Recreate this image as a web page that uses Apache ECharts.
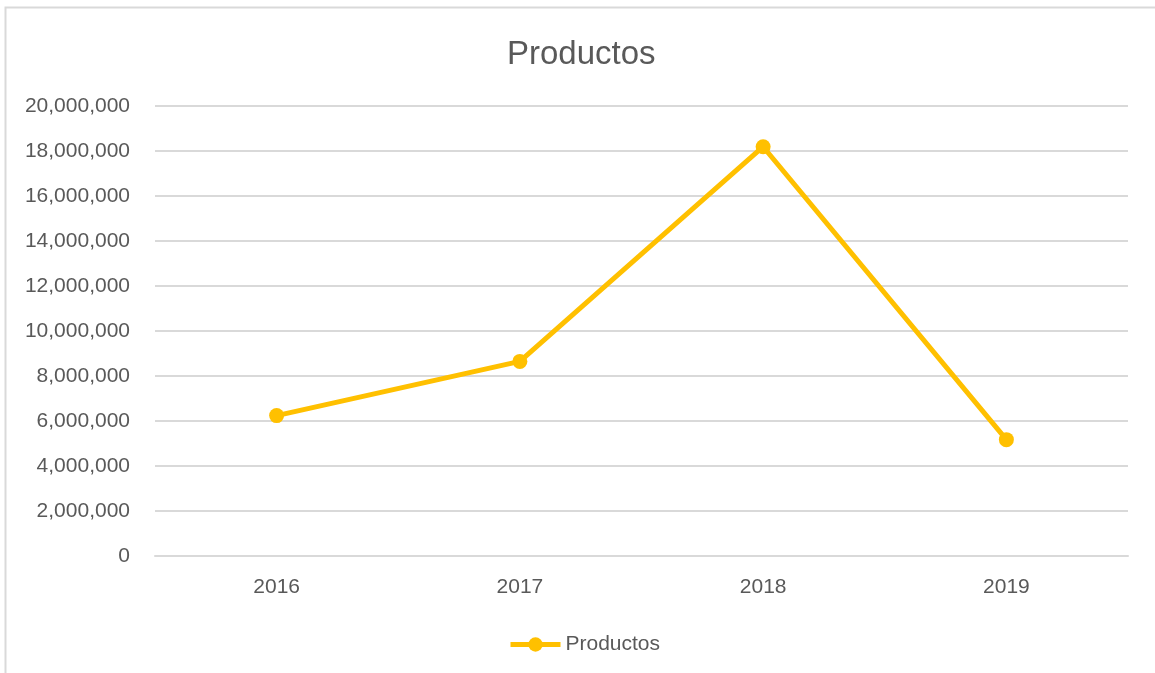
<!DOCTYPE html>
<html>
<head>
<meta charset="utf-8">
<script src="https://cdn.jsdelivr.net/npm/echarts@6/dist/echarts.min.js"></script>
<style>
  html, body { margin: 0; padding: 0; background: #fff; }
  #chart { width: 1155px; height: 673px; }
</style>
</head>
<body>
<div id="chart"></div>
<script>
  // datos
  const years = ['2016', '2017', '2018', '2019']
  const productos = [6240000, 8650000, 18190000, 5170000]
  const yMin = 0
  const yMax = 20000000
  const yStep = 2000000

  const textColor = '#595959'
  const gridColor = '#d9d9d9'
  const lineColor = '#ffc000'
  const font = '"Liberation Sans", Arial, sans-serif'

  const chart = echarts.init(document.getElementById('chart'))
  chart.setOption({
    animation: false,
    graphic: [
      {
        type: 'rect',
        shape: { x: 5.5, y: 7.5, width: 1170, height: 700 },
        style: { fill: 'none', stroke: gridColor, lineWidth: 2 },
        silent: true,
      },
    ],
    title: {
      text: 'Productos',
      left: 502,
      top: 33,
      textStyle: {
        color: textColor,
        fontFamily: font,
        fontSize: 33,
        fontWeight: 'normal',
      },
    },
    legend: {
      data: ['Productos'],
      left: 503,
      top: 629,
      itemWidth: 50,
      itemHeight: 18,
      itemGap: 6,
      lineStyle: { width: 5 },
      textStyle: { color: textColor, fontFamily: font, fontSize: 21 },
    },
    grid: { left: 155, right: 27, top: 106, bottom: 117 },
    xAxis: {
      type: 'category',
      data: years,
      boundaryGap: true,
      axisLine: { lineStyle: { color: gridColor, width: 2 } },
      axisTick: { show: false },
      axisLabel: { color: textColor, fontFamily: font, fontSize: 21, margin: 21 },
    },
    yAxis: {
      type: 'value',
      min: yMin,
      max: yMax,
      interval: yStep,
      axisLine: { show: false },
      axisTick: { show: false },
      axisLabel: {
        color: textColor,
        fontFamily: font,
        fontSize: 21,
        margin: 25,
        formatter: (v) => v.toLocaleString('en-US'),
      },
      splitLine: { lineStyle: { color: gridColor, width: 2 } },
    },
    series: [
      {
        name: 'Productos',
        type: 'line',
        data: productos,
        symbol: 'circle',
        symbolSize: 15,
        lineStyle: { color: lineColor, width: 5 },
        itemStyle: { color: lineColor },
      },
    ],
  })
</script>
</body>
</html>
